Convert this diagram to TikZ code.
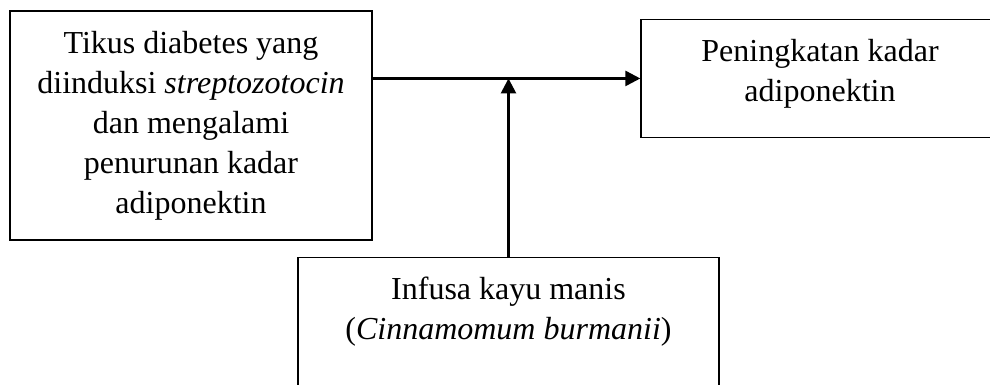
\documentclass[tikz,border=0pt]{standalone}
\usepackage{fontspec}
\setmainfont{Liberation Serif}
\usetikzlibrary{arrows.meta}

\begin{document}
\begin{tikzpicture}
        [
           x=0.5pt, y=-0.5pt,
           every node/.style={rectangle,draw,line width=0.65pt,align=center,
             font=\fontsize{16pt}{20pt}\selectfont}
        ]
        \tikzstyle{panah}=[line width=1.3pt,-{Triangle[length=7.5pt,width=7.5pt]}]
        \useasboundingbox (0,0) rectangle (990,385);
        \node (kiri) at (191,125.5) [minimum width=181pt,minimum height=114.5pt]
            {Tikus diabetes yang\\diinduksi \textit{streptozotocin}\\dan mengalami\\penurunan kadar\\adiponektin};
        \node (kanan) at (820,18.7) [anchor=north,minimum width=179pt,inner ysep=10pt]
            {Peningkatan kadar\\adiponektin\rule[-8pt]{0pt}{0pt}};
        \node (bawah) at (508.5,256.7) [anchor=north,minimum width=210.5pt,inner ysep=10pt]
            {Infusa kayu manis\\(\textit{Cinnamomum burmanii})\rule[-40pt]{0pt}{0pt}};
        \coordinate (temu) at (bawah.north |- kanan.west);
        \draw[panah] (kiri.east |- kanan.west) -- (kanan.west);
        \draw[panah] (bawah.north) -- (temu);
\end{tikzpicture}
\end{document}
